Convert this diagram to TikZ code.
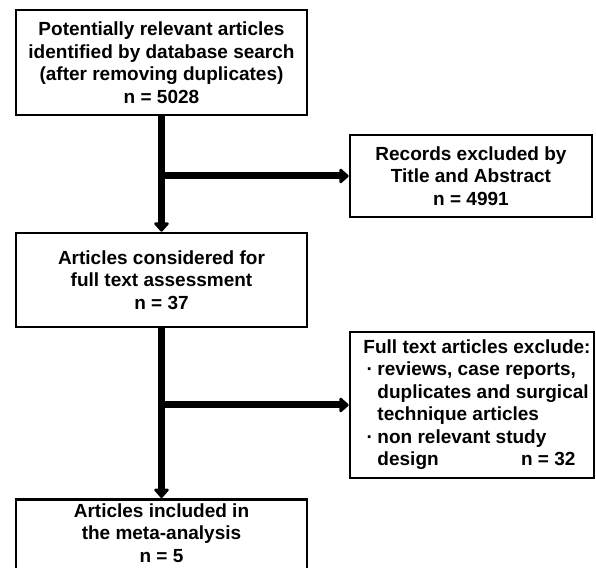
\documentclass[tikz,border=0pt]{standalone}
\usepackage{fontspec}
\setmainfont{Liberation Sans}
\usetikzlibrary{arrows.meta}
\begin{document}
\begin{tikzpicture}[x=1pt,y=1pt,
  box/.style={draw=black, line width=2.6pt, fill=white, align=center, inner sep=0pt,
    font=\fontsize{19}{22.5}\selectfont\bfseries},
  flow/.style={line width=7pt, -{Triangle[round,length=10pt,width=17pt]}}]
\useasboundingbox (0,0) rectangle (596,567);
\node[box, minimum width=291pt, minimum height=105pt] (b1) at (161.5,504.5)
  {Potentially relevant articles\\identified by database search\\(after removing duplicates)\\n = 5028};
\node[box, minimum width=242pt, minimum height=82pt] (r1) at (471,391)
  {Records excluded by\\Title and Abstract\\n = 4991};
\node[box, minimum width=291pt, minimum height=94pt] (b2) at (161.5,287)
  {Articles considered for\\full text assessment\\n = 37};
\node[box, minimum width=244pt, minimum height=146pt, align=left] (r2) at (472,162)
  {\hspace*{10pt}\begin{tabular}{@{}l@{}l@{}}
   \multicolumn{2}{@{}l@{}}{Full text articles exclude:}\\
   \makebox[14pt][l]{\,\textperiodcentered} & reviews, case reports,\\
   & duplicates and surgical\\
   & technique articles\\
   \makebox[14pt][l]{\,\textperiodcentered} & non relevant study\\
   & \makebox[212pt][l]{design\hfill n = 32\hspace*{14pt}}
   \end{tabular}};
\node[box, minimum width=291pt, minimum height=72pt, anchor=north] (b3) at (161.5,69)
  {\parbox[c][64pt][t]{280pt}{\centering Articles included in\\the meta-analysis\\n = 5}};
\coordinate (j1) at (b1.south |- r1.west);
\coordinate (j2) at (b2.south |- r2.west);
\draw[flow] (b1.south) -- (b2.north);
\draw[flow] (j1) -- (r1.west);
\draw[flow] (b2.south) -- (b3.north);
\draw[flow] (j2) -- (r2.west);
\end{tikzpicture}
\end{document}
